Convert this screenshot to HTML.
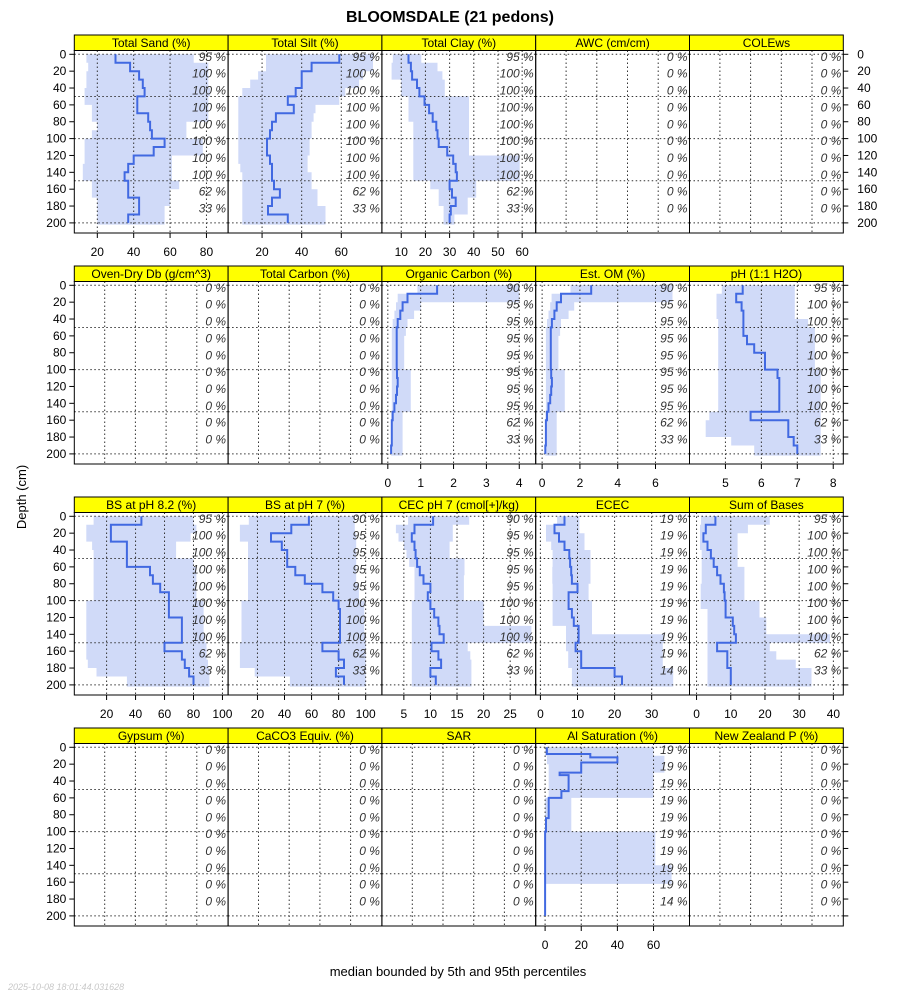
<!DOCTYPE html>
<html><head><meta charset="utf-8"><title>BLOOMSDALE</title>
<style>
html,body{margin:0;padding:0;background:#fff;}
svg{display:block;font-family:"Liberation Sans",sans-serif;}
</style></head>
<body>
<svg id="chart" width="900" height="1000" viewBox="0 0 900 1000" xmlns="http://www.w3.org/2000/svg">
<text x="450" y="22" text-anchor="middle" font-size="16" font-weight="bold">BLOOMSDALE (21 pedons)</text>
<text x="0" y="0" transform="translate(26,497) rotate(-90)" text-anchor="middle" font-size="13">Depth (cm)</text>
<text x="458" y="976" text-anchor="middle" font-size="13">median bounded by 5th and 95th percentiles</text>
<text x="8" y="990" font-size="9" font-style="italic" fill="#c8c8c8">2025-10-08 18:01:44.031628</text>
<g id="panels"></g>
</svg>
<script>
// ---- data (10 cm intervals from 0 to 200 cm) ----
const depthTicks = [0,20,40,60,80,100,120,140,160,180,200];
const depthGrid = [0,50,100,150,200];

const sandMed = [30,38,43,45,46,42,42,48,49,50,57,51,40,37,35,37,37,43,43,37];
const sandLo  = [14,15,14,14,13,13,17,17,20,17,13,13,13,12,12,17,17,20,20,20];
const sandHi  = [73,81,81,81,82,81,81,81,69,69,78,78,61,61,61,65,60,60,57,57];
const sandPct = [95,100,100,100,100,100,100,100,62,33];
const sandTicks = [20,40,60,80];

const siltMed = [59,45,40,40,37,33,36,27,25,24,22.5,22.5,24,25,25,26,29,25,23,33];
const siltLo  = [22,22,18,14,10,8,8,8,8,8,8,8,8,9,10,10,10,10,10,10];
const siltHi  = [76,76,71,69,62,59,47,46,45,45,44,44,43,43,45,45,48,48,52,52];
const siltPct = [95,100,100,100,100,100,100,100,62,33];
const siltTicks = [20,40,60];

const clayMed = [13,14,14.5,16.5,17.5,19.6,21.5,23,24.5,25,25.5,29,31.5,32.5,33,30,31,32.5,30.5,30];
const clayLo  = [6.5,6,6,10,10,13,13,13,15,15,15,15,15,15,15,22,25.5,25.5,27.5,27.5];
const clayHi  = [18.3,25,27,28,28,38,38,38,38,38,38,38,59,59,59,41,41,37.5,37.5,32];
const clayPct = [95,100,100,100,100,100,100,100,62,33];
const clayTicks = [10,20,30,40,50,60];

const ocMed = [1.5,0.6,0.45,0.38,0.3,0.27,0.27,0.27,0.27,0.27,0.28,0.3,0.28,0.25,0.2,0.15,0.12,0.12,0.12,0.1];
const ocLo  = [0.9,0.3,0.25,0.2,0.15,0.12,0.12,0.12,0.12,0.12,0.12,0.12,0.12,0.12,0.12,0.1,0.1,0.1,0.1,0.1];
const ocHi  = [4.0,4.0,1.0,0.8,0.6,0.55,0.5,0.5,0.5,0.5,0.7,0.7,0.7,0.7,0.7,0.45,0.45,0.45,0.45,0.45];
const ocPct = [90,95,95,95,95,95,95,95,62,33];
const ocTicks = [0,1,2,3,4];

const omMed = [2.6,1.0,0.77,0.65,0.52,0.46,0.46,0.46,0.46,0.46,0.48,0.52,0.48,0.43,0.34,0.26,0.2,0.2,0.2,0.17];
const omLo  = [1.5,0.5,0.43,0.34,0.26,0.2,0.2,0.2,0.2,0.2,0.2,0.2,0.2,0.2,0.2,0.17,0.17,0.17,0.17,0.17];
const omHi  = [6.9,6.9,1.7,1.4,1.0,0.95,0.86,0.86,0.86,0.86,1.2,1.2,1.2,1.2,1.2,0.77,0.77,0.77,0.77,0.77];
const omPct = [90,95,95,95,95,95,95,95,62,33];
const omTicks = [0,2,4,6];

const phMed = [5.48,5.3,5.45,5.5,5.5,5.5,5.6,5.8,6.1,6.1,6.45,6.5,6.5,6.5,6.5,5.7,6.75,6.75,6.9,7.0];
const phLo  = [4.9,4.75,4.75,4.75,4.8,4.8,4.8,4.8,4.8,4.8,4.8,4.8,4.8,4.8,4.8,4.55,4.45,4.45,5.16,5.8];
const phHi  = [6.93,6.93,6.93,6.93,7.3,7.49,7.49,7.49,7.49,7.49,7.65,7.65,7.65,7.65,7.65,7.65,7.65,7.65,7.65,7.65];
const phPct = [95,100,100,100,100,100,100,100,62,33];
const phTicks = [5,6,7,8];

const bs82Med = [44,23,23,34,34,34,50,52,57,63,63,63,72,72,72,60,72,74,77,80];
const bs82Lo  = [11,6,6,10,11,11,11,11,11,11,6,6,6,6,6,6,6,7,13,34];
const bs82Hi  = [80,82,78,68,68,80,82,82,82,82,87,87,87,87,88,89,89,90,91,91];
const bs82Pct = [95,100,100,100,100,100,100,100,62,33];
const bs82Ticks = [20,40,60,80,100];

const bs7Med = [58,45,30,38,42,42,48,55,68,76,80,81,81,81,81,68,80,84,78,84];
const bs7Lo  = [13.6,7,7,13,13,13,13,13,13,13,8.2,8.2,8.2,8.2,8.2,7,7,7,18,44];
const bs7Hi  = [92,92,93,93,93,93,93,93,95,95,99,99,99,99,100,100,100,100,100,100];
const bs7Pct = [90,95,95,95,95,100,100,100,62,33];
const bs7Ticks = [20,40,60,80,100];

const cecMed = [10.5,7,6.5,7,7.2,7.5,8,8.7,10,9.5,10,10.7,11.5,11.7,12.5,10.2,11.5,12,10,11];
const cecLo  = [5.8,3.5,4,5,5.5,6,7,7,7,7,6.5,6.5,6.5,6.5,6.5,6.5,6.5,6.5,6.5,6.5];
const cecHi  = [17.3,14.2,14.2,13.6,13.6,16.4,16.4,16.3,16.3,16.3,20,20,20,29,29,17,17.5,17.7,17.7,17.7];
const cecPct = [90,95,95,95,95,100,100,100,62,33];
const cecTicks = [5,10,15,20,25];

const ececMed = [6.5,3.8,5,6.5,7.8,8,8.3,8.5,10,7.6,7.6,8.5,9,10.3,10.3,9.5,11,11,20,22];
const ececLo  = [4.5,1.5,1.5,2.9,3.3,3.3,3.2,3.2,3.3,3.3,3.3,3.3,3.3,6.9,6.9,6.9,7.5,7.5,8.5,8.5];
const ececHi  = [10.5,10.5,11.9,11.9,13.5,13.5,13.5,13.5,13,13,13.9,13.9,13.9,13.9,33.4,33,33,33,35.8,35.8];
const ececPct = [19,19,19,19,19,19,19,19,19,14];
const ececTicks = [0,10,20,30];

const sobMed = [5.5,2.7,2,3.2,4.2,5,6,7,8,8.2,8.5,8.5,10.6,11,11.5,6,9,9,10,10];
const sobLo  = [1.3,1,1,1,1.5,1.5,1.5,1.5,1.2,1.2,1.2,3.2,3.2,3.2,3.2,3.2,3.2,3.2,3.2,3.2];
const sobHi  = [21.4,15,12,12,12,12,14,14,14,14,18.4,18.4,20.4,20.4,39,21.4,23.3,29,33.6,33.6];
const sobPct = [95,100,100,100,100,100,100,100,62,33];
const sobTicks = [0,10,20,30,40];

const alDepth = [0,8,12,18,30,33,52,60,84,100,200];
const alMed = [1,25,40,20,8,13,9,2,0.5,0];
const alLo  = [0,1,2,2,2,2,0,0,0,0,0,0,0,0,0,0];
const alHi  = [60,66,66,60,60,60,14.5,14.5,14.5,14.5,61,61,61,61,70,70];
const alPct = [19,19,19,19,19,19,19,19,19,14];
const alTicks = [0,20,40,60];

const zeroPct = [0,0,0,0,0,0,0,0,0,0];

const panels = [
 {name:'total-sand',title:'Total Sand (%)',dom:[7.35,91.9],med:sandMed,lo:sandLo,hi:sandHi,pct:sandPct,ticks:sandTicks},
 {name:'total-silt',title:'Total Silt (%)',dom:[2.85,80.5],med:siltMed,lo:siltLo,hi:siltHi,pct:siltPct,ticks:siltTicks},
 {name:'total-clay',title:'Total Clay (%)',dom:[2.0,65.6],med:clayMed,lo:clayLo,hi:clayHi,pct:clayPct,ticks:clayTicks},
 {name:'awc',title:'AWC (cm/cm)',pct:zeroPct},
 {name:'colews',title:'COLEws',pct:zeroPct},
 {name:'oven-dry-db',title:'Oven-Dry Db (g/cm^3)',pct:zeroPct},
 {name:'total-carbon',title:'Total Carbon (%)',pct:zeroPct},
 {name:'organic-carbon',title:'Organic Carbon (%)',dom:[-0.18,4.5],med:ocMed,lo:ocLo,hi:ocHi,pct:ocPct,ticks:ocTicks},
 {name:'est-om',title:'Est. OM (%)',dom:[-0.34,7.8],med:omMed,lo:omLo,hi:omHi,pct:omPct,ticks:omTicks},
 {name:'ph-h2o',title:'pH (1:1 H2O)',dom:[4.0,8.28],med:phMed,lo:phLo,hi:phHi,pct:phPct,ticks:phTicks},
 {name:'bs-ph82',title:'BS at pH 8.2 (%)',dom:[-2.3,103.9],med:bs82Med,lo:bs82Lo,hi:bs82Hi,pct:bs82Pct,ticks:bs82Ticks},
 {name:'bs-ph7',title:'BS at pH 7 (%)',dom:[-1.7,112],med:bs7Med,lo:bs7Lo,hi:bs7Hi,pct:bs7Pct,ticks:bs7Ticks},
 {name:'cec-ph7',title:'CEC pH 7 (cmol[+]/kg)',dom:[0.87,29.8],med:cecMed,lo:cecLo,hi:cecHi,pct:cecPct,ticks:cecTicks},
 {name:'ecec',title:'ECEC',dom:[-1.27,40.2],med:ececMed,lo:ececLo,hi:ececHi,pct:ececPct,ticks:ececTicks},
 {name:'sum-of-bases',title:'Sum of Bases',dom:[-2.06,42.9],med:sobMed,lo:sobLo,hi:sobHi,pct:sobPct,ticks:sobTicks},
 {name:'gypsum',title:'Gypsum (%)',pct:zeroPct},
 {name:'caco3',title:'CaCO3 Equiv. (%)',pct:zeroPct},
 {name:'sar',title:'SAR',pct:zeroPct},
 {name:'al-saturation',title:'Al Saturation (%)',dom:[-5.2,79.9],med:alMed,medDepth:alDepth,lo:alLo,hi:alHi,pct:alPct,ticks:alTicks},
 {name:'new-zealand-p',title:'New Zealand P (%)',pct:zeroPct}
];

const NS='http://www.w3.org/2000/svg';
const root=document.getElementById('panels');
function mk(tag,attrs,parent){const e=document.createElementNS(NS,tag);for(const k in attrs)e.setAttribute(k,attrs[k]);(parent||root).appendChild(e);return e;}

const X0=74.3, CW=153.8, ROW0=35, RH=231, PX=0.843;
panels.forEach((p,i)=>{
  const r=Math.floor(i/5), c=i%5;
  const left=X0+c*CW, right=left+CW, top=ROW0+r*RH, stripB=top+15.5, bot=top+198;
  const ys=d=>top+19.3+d*PX;
  const g=mk('g',{});
  
  
  let xs=null;
  if(p.dom){xs=v=>left+(v-p.dom[0])/(p.dom[1]-p.dom[0])*CW;}
  // band
  if(p.lo){
    let pts=[];
    for(let k=0;k<p.hi.length;k++){const d0=k*10,d1=(k+1)*10+(k==p.hi.length-1?2:0);pts.push([xs(p.hi[k]),ys(d0)],[xs(p.hi[k]),ys(d1)]);}
    for(let k=p.lo.length-1;k>=0;k--){const d0=k*10,d1=(k+1)*10+(k==p.lo.length-1?2:0);pts.push([xs(p.lo[k]),ys(d1)],[xs(p.lo[k]),ys(d0)]);}
    const band=mk('polygon',{points:pts.map(q=>q[0].toFixed(1)+','+q[1].toFixed(1)).join(' '),fill:'#d0daf8',stroke:'none'},g);
    
    
  }
  // grid
  const vx=[];
  if(p.ticks){p.ticks.forEach(t=>vx.push(xs(t)));} else {for(let k=0;k<4;k++)vx.push(left+30.4+k*30.7);}
  vx.forEach(x=>{const l=mk('line',{x1:x,x2:x,y1:stripB,y2:bot,stroke:'#333',"stroke-width":1,"stroke-dasharray":'1.5,2.5'},g);
    
    });
  depthGrid.forEach(d=>{const l=mk('line',{x1:left,x2:right,y1:ys(d),y2:ys(d),stroke:'#333',"stroke-width":1,"stroke-dasharray":'1.5,2.5'},g);
    
    });
  // median
  if(p.med){
    const dd=p.medDepth||p.med.map((v,k)=>k*10).concat([200]);
    let pts=[];
    for(let k=0;k<p.med.length;k++){pts.push([xs(p.med[k]),ys(dd[k])],[xs(p.med[k]),ys(dd[k+1])]);}
    const ln=mk('polyline',{points:pts.map(q=>q[0].toFixed(1)+','+q[1].toFixed(1)).join(' '),fill:'none',stroke:'#4169e1',"stroke-width":2,"stroke-linejoin":'miter'},g);
    
    
  }
  // pct labels
  p.pct.forEach((v,k)=>{const t=mk('text',{x:right-2,y:ys(3+20*k)+4,"text-anchor":'end',"font-size":12,"font-style":'italic',fill:'#333'},g);
    t.textContent=v+' %';
    
    });
  // strip
  const s=mk('rect',{x:left,y:top,width:CW,height:15.5,fill:'#ffff00',stroke:'#000',"stroke-width":1},g);
  
  
  const st=mk('text',{x:left+CW/2,y:top+12,"text-anchor":'middle',"font-size":12},g);
  st.textContent=p.title;
  
  
  // border
  const b=mk('rect',{x:left,y:stripB,width:CW,height:bot-stripB,fill:'none',stroke:'#000',"stroke-width":1},g);
  
  
  // x ticks
  if(p.ticks){p.ticks.forEach(t=>{const x=xs(t);
    const tk=mk('line',{x1:x,x2:x,y1:bot,y2:bot+5,stroke:'#000'},g);
    
    
    const tl=mk('text',{x:x,y:bot+23,"text-anchor":'middle',"font-size":12},g);
    tl.textContent=t;
    
    });}
  // y axes
  if(c==0){depthTicks.forEach(d=>{
    const tk=mk('line',{x1:left-5,x2:left,y1:ys(d),y2:ys(d),stroke:'#000'},g);
    
    
    const tl=mk('text',{x:left-8,y:ys(d)+4,"text-anchor":'end',"font-size":12},g);
    tl.textContent=d;
    
    });}
  if(c==4){depthTicks.forEach(d=>{
    const tk=mk('line',{x1:right,x2:right+5,y1:ys(d),y2:ys(d),stroke:'#000'},g);
    
    
    if(r==0){const tl=mk('text',{x:right+14,y:ys(d)+4,"text-anchor":'start',"font-size":12},g);
      tl.textContent=d;
      
      }});}
});
</script>
</body></html>
